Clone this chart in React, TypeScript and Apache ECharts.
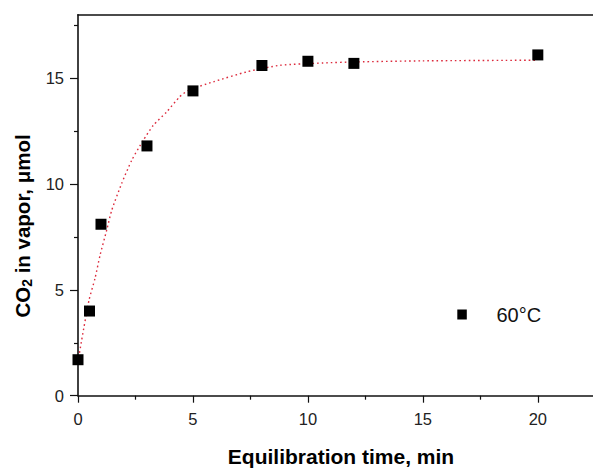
import React, { useEffect, useRef } from "react";
import * as echarts from "echarts";

// measured data points (time, min / CO2, µmol)
const timeMin = [0, 0.5, 1, 3, 5, 8, 10, 12, 20];
const co2Umol = [1.7, 4.0, 8.1, 11.8, 14.4, 15.6, 15.8, 15.7, 16.1];

// fitted curve
const fitTime = [0, 0.16, 0.48, 0.74, 0.96, 1.25, 1.47, 1.9, 2.34, 2.84, 3.28, 3.86, 4.42, 4.8, 5.89, 7.34, 8.79, 10.67, 12.1, 15, 20];
const fitCo2 = [1.6, 2.63, 4.52, 5.54, 6.64, 7.83, 8.77, 10.03, 11.13, 12.07, 12.78, 13.41, 14.12, 14.43, 14.83, 15.3, 15.61, 15.72, 15.77, 15.82, 15.85];

const xMajor = [0, 5, 10, 15, 20];
const xMinor = [2.5, 7.5, 12.5, 17.5];
const yMajor = [0, 5, 10, 15];
const yMinor = [2.5, 7.5, 12.5, 17.5];

const seriesName = "60°C";
const xTitle = "Equilibration time, min";

const FONT = "'Liberation Sans', Arial, Helvetica, sans-serif";
const AXIS_COLOR = "#111";

export default function App() {
  const ref = useRef<HTMLDivElement>(null);

  useEffect(() => {
    if (!ref.current) return;
    const chart = echarts.init(ref.current, null, { renderer: "svg" });
    const axisLine = { show: true, lineStyle: { color: AXIS_COLOR, width: 1.6 } };
    const option: any = {
      animation: false,
      backgroundColor: "#fff",
      grid: { left: 78, right: 0, top: 14.7, bottom: 72.3, containLabel: false },
      xAxis: [
        {
          type: "value", min: 0, max: 22.4, position: "bottom",
          axisLine: { ...axisLine, onZero: false },
          splitLine: { show: false },
          axisTick: { show: true, inside: false, length: 7, customValues: xMajor, lineStyle: { color: AXIS_COLOR, width: 1.2 } },
          axisLabel: { show: true, customValues: xMajor, margin: 15, fontSize: 16.5, color: "#222", fontFamily: FONT },
        },
        {
          type: "value", min: 0, max: 22.4, position: "bottom",
          axisLine: { show: false },
          splitLine: { show: false },
          axisTick: { show: true, inside: false, length: 4, customValues: xMinor, lineStyle: { color: AXIS_COLOR, width: 1.2 } },
          axisLabel: { show: false },
        },
        {
          type: "value", min: 0, max: 22.4, position: "top",
          axisLine: { ...axisLine, onZero: false },
          splitLine: { show: false },
          axisTick: { show: false },
          axisLabel: { show: false },
        },
      ],
      yAxis: [
        {
          type: "value", min: 0, max: 18, position: "left",
          axisLine: { ...axisLine, onZero: false },
          splitLine: { show: false },
          axisTick: { show: true, inside: false, length: 8, customValues: yMajor, lineStyle: { color: AXIS_COLOR, width: 1.2 } },
          axisLabel: { show: true, customValues: yMajor, margin: 14, fontSize: 16.5, color: "#222", fontFamily: FONT },
        },
        {
          type: "value", min: 0, max: 18, position: "left",
          axisLine: { show: false },
          splitLine: { show: false },
          axisTick: { show: true, inside: false, length: 4, customValues: yMinor, lineStyle: { color: AXIS_COLOR, width: 1.2 } },
          axisLabel: { show: false },
        },
      ],
      series: [
        {
          type: "line",
          name: "fit",
          data: fitTime.map((t, i) => [t, fitCo2[i]]),
          showSymbol: false,
          smooth: 0.2,
          lineStyle: { color: "#dc2a3c", width: 1.4, type: [1.6, 3] },
          z: 2,
        },
        {
          type: "scatter",
          name: seriesName,
          data: timeMin.map((t, i) => [t, co2Umol[i]]),
          symbol: "rect",
          symbolSize: 11,
          itemStyle: { color: "#000", opacity: 1 },
          z: 3,
        },
      ],
      graphic: [
        {
          type: "rect",
          shape: { x: 457.3, y: 309.5, width: 9.5, height: 10 },
          style: { fill: "#000" },
        },
        {
          type: "text",
          x: 496.5,
          y: 315,
          style: { text: seriesName, font: `20px ${FONT}`, fill: "#111", align: "left", verticalAlign: "middle" },
        },
        {
          type: "text",
          x: 341,
          y: 456,
          style: { text: xTitle, font: `bold 21px ${FONT}`, fill: "#000", align: "center", verticalAlign: "middle" },
        },
        {
          type: "text",
          x: 22,
          y: 226,
          rotation: Math.PI / 2,
          style: {
            text: "{a|CO}{s|2}{a| in vapor, μmol}",
            align: "center",
            verticalAlign: "middle",
            fill: "#000",
            rich: {
              a: { fontFamily: FONT, fontSize: 20.5, fontWeight: "bold", fill: "#000", color: "#000" },
              s: { fontFamily: FONT, fontSize: 14, fontWeight: "bold", fill: "#000", color: "#000", padding: [9, 0, 0, 0] },
            },
          },
        },
      ],
    };
    chart.setOption(option);
    return () => chart.dispose();
  }, []);

  return (
    <div
      ref={ref}
      style={{ position: "fixed", left: 0, top: 0, width: 593, height: 468, background: "#fff" }}
    />
  );
}
